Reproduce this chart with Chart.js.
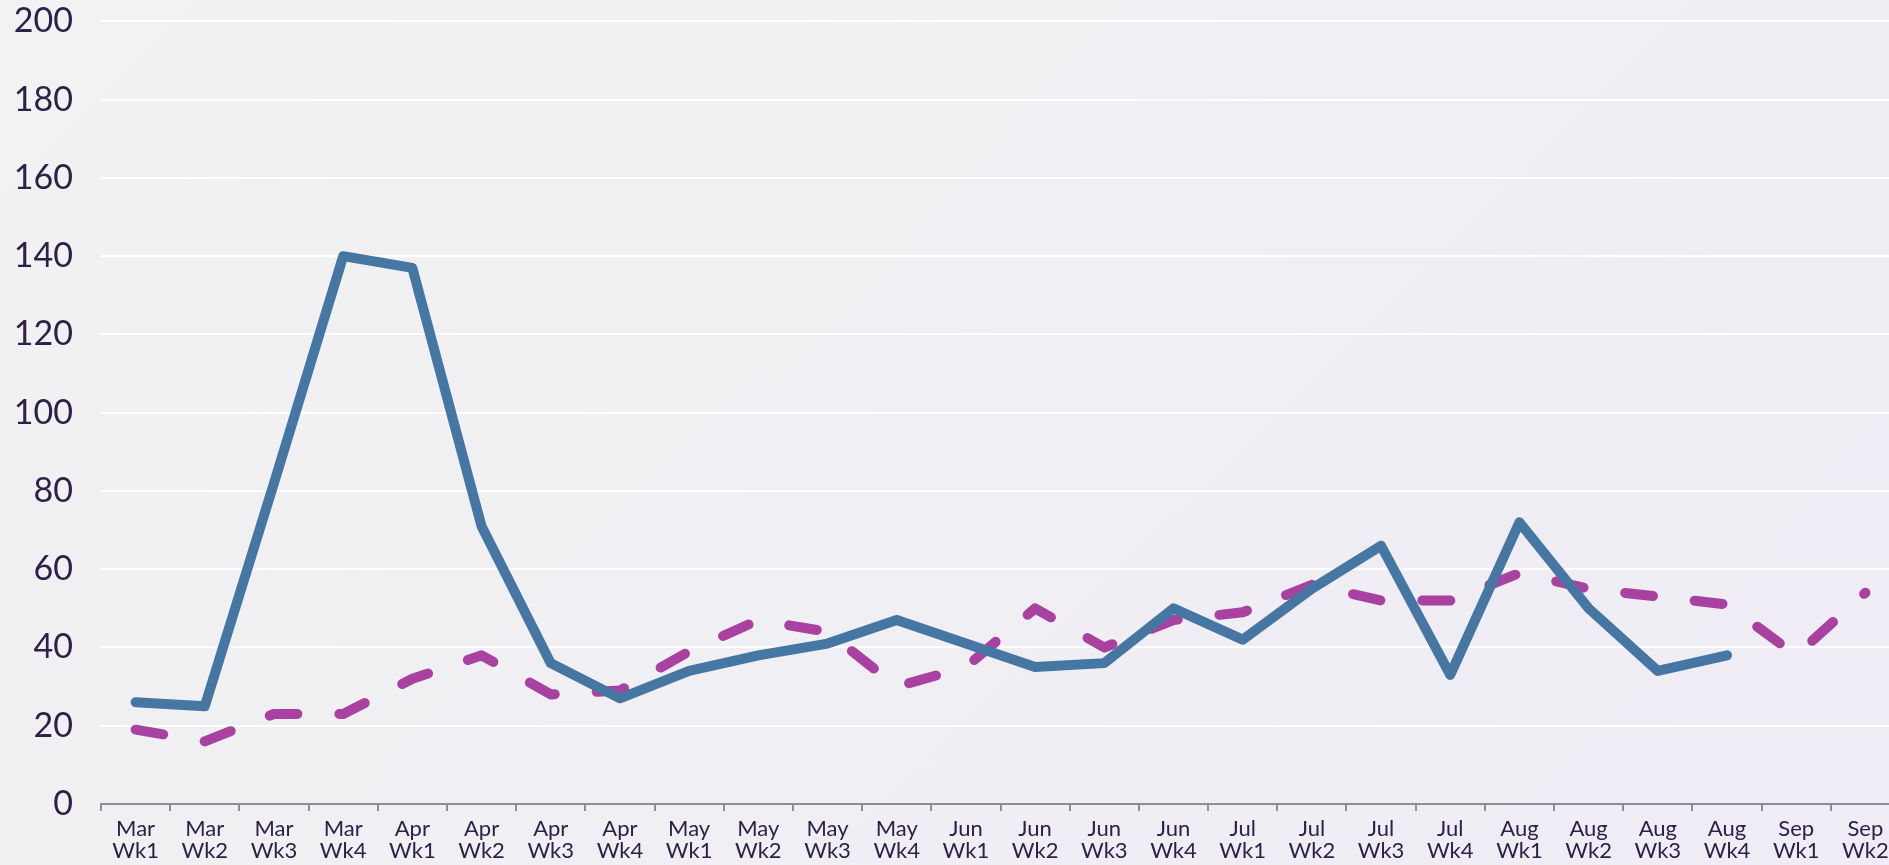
<!DOCTYPE html>
<html>
<head>
<meta charset="utf-8">
<script src="https://cdn.jsdelivr.net/npm/chart.js@4"></script>
<style>
    html, body {
        margin: 0;
        padding: 0;
        overflow: hidden;
        width: 1889px;
        height: 865px;
        background: linear-gradient(135deg, #f1f2f2 0%, #f0eff3 50%, #efecf5 100%);
    }
    #wrap {
        position: absolute;
        left: 0;
        top: -27px;
        width: 1900px;
        height: 892px;
    }
</style>
</head>
<body>
<div id="wrap"><canvas id="myChart" width="1900" height="892"></canvas></div>
<script>
// Category labels (month + week, two lines each)
const months = ['Mar', 'Mar', 'Mar', 'Mar', 'Apr', 'Apr', 'Apr', 'Apr', 'May', 'May', 'May', 'May',
    'Jun', 'Jun', 'Jun', 'Jun', 'Jul', 'Jul', 'Jul', 'Jul', 'Aug', 'Aug', 'Aug', 'Aug', 'Sep', 'Sep'];
const weeks = ['Wk1', 'Wk2', 'Wk3', 'Wk4', 'Wk1', 'Wk2', 'Wk3', 'Wk4', 'Wk1', 'Wk2', 'Wk3', 'Wk4',
    'Wk1', 'Wk2', 'Wk3', 'Wk4', 'Wk1', 'Wk2', 'Wk3', 'Wk4', 'Wk1', 'Wk2', 'Wk3', 'Wk4', 'Wk1', 'Wk2'];

// Solid blue series (stops after Aug Wk4)
const solidSeries = [26, 25, 82, 140, 137, 71, 36, 27, 34, 38, 41, 47,
    41, 35, 36, 50, 42, 55, 66, 33, 72, 50, 34, 38, null, null];

// Dashed purple series
const dashedSeries = [19, 16, 23, 23, 32, 38, 28, 29, 39, 47, 44, 30,
    35, 50, 40, 47, 49, 56, 52, 52, 59, 55, 53, 51, 38, 54];

// Y axis ticks
const yMin = 0;
const yMax = 200;
const yStep = 20;

const labels = months.map((m, i) => [m, weeks[i]]);
const textColor = '#2e2048';

const ctx = document.getElementById('myChart').getContext('2d');
const myChart = new Chart(ctx, {
    type: 'line',
    data: {
        labels: labels,
        datasets: [
            {
                label: 'Solid',
                data: solidSeries,
                borderColor: '#4676a2',
                borderWidth: 10,
                borderJoinStyle: 'round',
                borderCapStyle: 'round',
                pointRadius: 0,
                tension: 0,
                fill: false,
            },
            {
                label: 'Dashed',
                data: dashedSeries,
                borderColor: '#a8419f',
                borderWidth: 10,
                borderDash: [28, 42],
                borderCapStyle: 'round',
                borderJoinStyle: 'round',
                pointRadius: 0,
                tension: 0,
                fill: false,
            },
        ],
    },
    options: {
        responsive: false,
        animation: false,
        layout: {
            padding: { top: 0, right: 0, bottom: 0, left: 0 },
        },
        plugins: {
            legend: { display: false },
            tooltip: { enabled: false },
        },
        scales: {
            x: {
                offset: true,
                grid: {
                    offset: true,
                    drawOnChartArea: false,
                    drawTicks: true,
                    tickLength: 7,
                    color: '#8e8d94',
                    lineWidth: 2,
                },
                border: { color: '#8e8d94', width: 2 },
                ticks: {
                    color: textColor,
                    font: { family: 'Lato', size: 22, lineHeight: 1.0 },
                    maxRotation: 0,
                    minRotation: 0,
                    autoSkip: false,
                    padding: 7,
                },
                afterFit: (scale) => { scale.height = 61; },
            },
            y: {
                min: yMin,
                max: yMax,
                grid: {
                    color: '#ffffff',
                    lineWidth: 2,
                    drawTicks: false,
                },
                border: { display: false },
                ticks: {
                    stepSize: yStep,
                    color: textColor,
                    font: { family: 'Lato', size: 34 },
                    padding: 28,
                },
                afterFit: (scale) => { scale.width = 101; },
            },
        },
    },
});
</script>
</body>
</html>
